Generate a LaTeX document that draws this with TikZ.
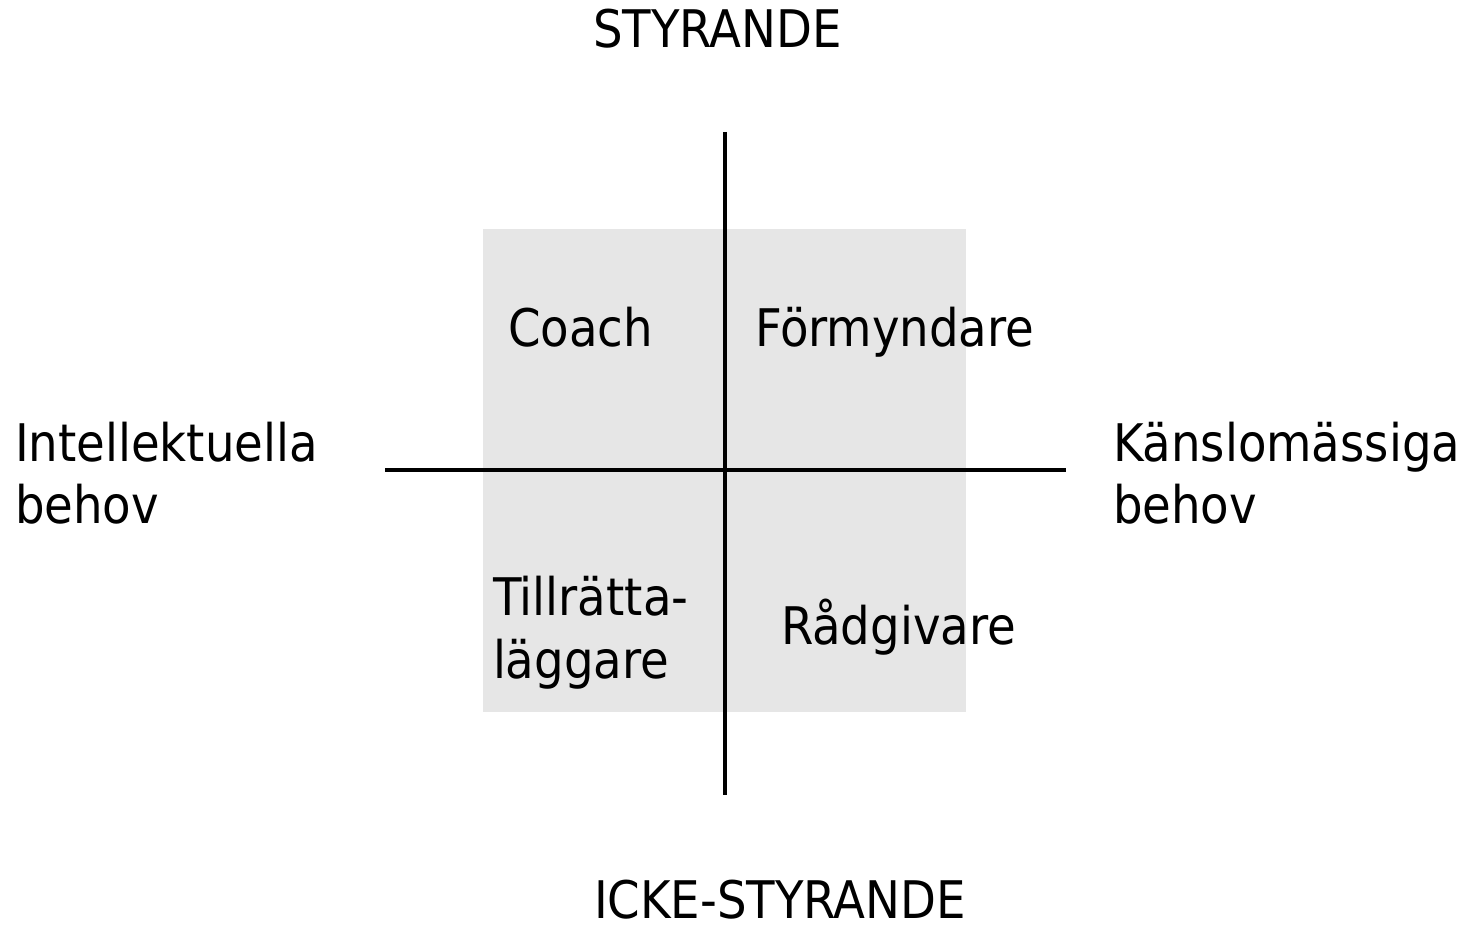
\documentclass[tikz,border=0pt]{standalone}
\usepackage{fontspec}
\setmainfont{DejaVu Sans Condensed}
\begin{document}
\begin{tikzpicture}[x=0.02cm,y=-0.02cm,
  lbl/.style={inner sep=0pt,outer sep=0pt,anchor=base west,align=left,
    font=\fontsize{29.5pt}{35.7pt}\selectfont},
  axis/.style={line width=2.3pt,black}]
\useasboundingbox (0,0) rectangle (1470,928);
\fill[fill={rgb,255:red,230;green,230;blue,230}] (483,229) rectangle (966,712);
\coordinate (vt) at (725,132);
\coordinate (vb) at (725,795);
\coordinate (hl) at (385,470);
\coordinate (hr) at (1066,470);
\draw[axis] (vt) -- (vb);
\draw[axis] (hl) -- (hr);
\node[lbl] (sty) at (593,48) {STYRANDE};
\node[lbl,text depth=0pt] (icke) at (594,918) {ICKE-STYRANDE};
\node[lbl] (intel) at (15,524) {Intellektuella\\behov};
\node[lbl] (kansl) at (1113,524) {Känslomässiga\\behov};
\node[lbl] (coach) at (508,347) {Coach};
\node[lbl] (form) at (755,347) {Förmyndare};
\node[lbl] (till) at (493,678) {Tillrätta-\\läggare};
\node[lbl] (rad) at (781,644) {Rådgivare};
\end{tikzpicture}
\end{document}
